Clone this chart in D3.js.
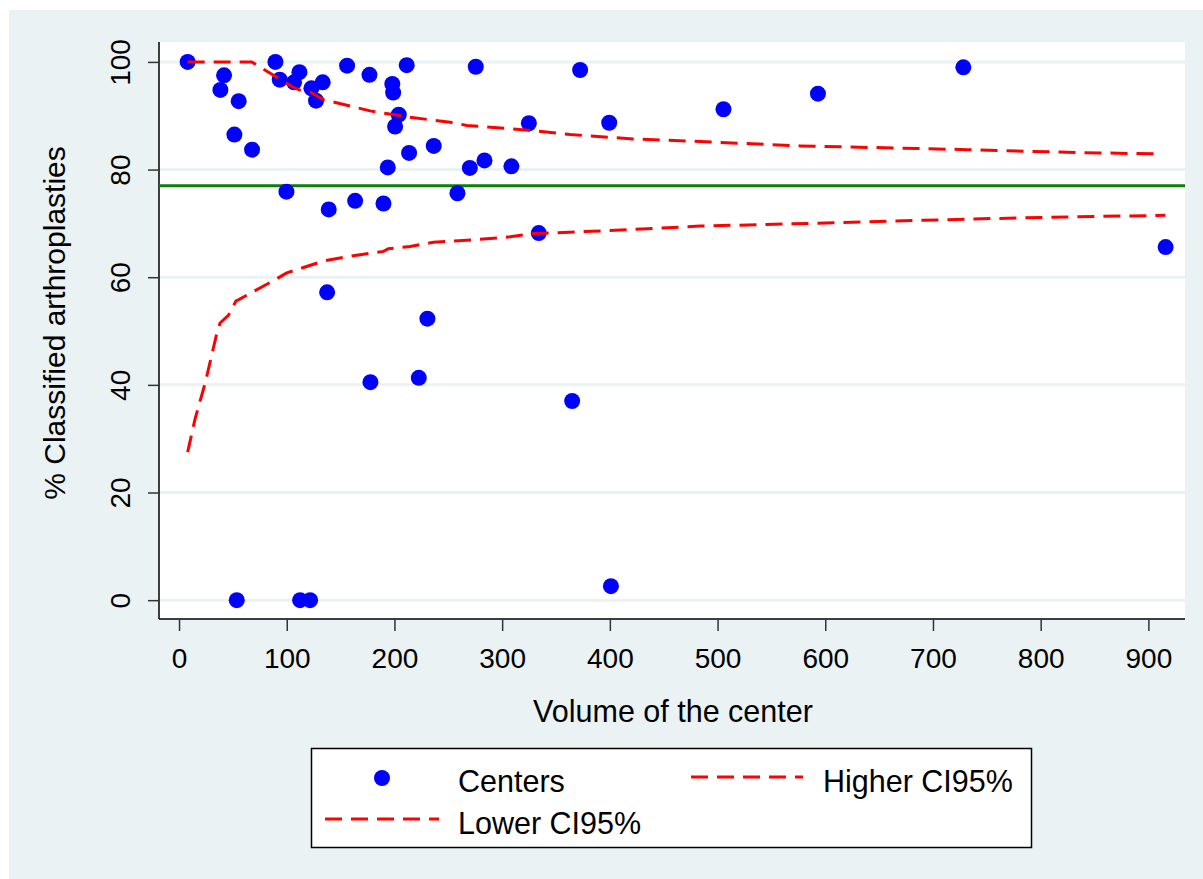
<!DOCTYPE html>
<html>
<head>
<meta charset="utf-8">
<script src="https://cdn.jsdelivr.net/npm/d3@7"></script>
<style>
  body { margin: 0; background: #fff; }
  text { font-family: "Liberation Sans", Arial, Helvetica, sans-serif; fill: #000; }
</style>
</head>
<body>
<svg id="chart" width="1203" height="879"></svg>
<script>
// centers: volume vs % classified
const volume = [8, 41.8, 38.4, 55.4, 51.4, 67.8, 89.5, 93.5, 106.8, 111.8, 122.9, 133.4, 127.2, 156, 176.8,
  198, 198.8, 211.4, 204, 200.6, 193.8, 213.6, 236.5, 99.7, 139, 163.5, 189.8, 137.5, 230.6, 177.7, 222.6,
  275.5, 372.4, 324.8, 399.4, 270, 283.6, 308.6, 258.5, 334, 505.5, 593.2, 728.2, 916, 365, 401, 53.6, 112.4, 121.7]
const pct = [100, 97.5, 94.8, 92.7, 86.5, 83.7, 100, 96.7, 96.2, 98.1, 95.1, 96.2, 92.8, 99.3, 97.6,
  95.9, 94.3, 99.4, 90.2, 88, 80.4, 83.1, 84.4, 75.9, 72.6, 74.2, 73.7, 57.2, 52.3, 40.5, 41.3,
  99.1, 98.5, 88.6, 88.7, 80.3, 81.7, 80.6, 75.6, 68.2, 91.2, 94.1, 99, 65.6, 37, 2.6, 0, 0, 0]

const upperX = [8, 67.5, 71.5, 106.8, 111.7, 121.7, 134, 158.8, 177.4, 189.8, 203.7, 214.5, 251.7, 267.2,
  324.4, 363.2, 421.7, 483.9, 576.8, 731.6, 824.5, 912]
const upperY = [100, 100, 99.5, 95.2, 94.8, 94.4, 93, 91.8, 90.9, 90.5, 90.1, 89.7, 88.8, 88.2,
  87.3, 86.5, 85.7, 85.2, 84.4, 83.7, 83.2, 82.9]

const lowerX = [8, 14.9, 24.1, 35, 38.1, 45.8, 52.9, 55.1, 65.9, 90.7, 100, 112.4, 134, 158.8, 189.8, 194.4,
  214.5, 236.2, 276.5, 307.4, 329, 391, 483.9, 607.7, 731.6, 824.5, 915.8]
const lowerY = [27.5, 33.7, 40.2, 49.5, 51.5, 52.9, 55.6, 55.8, 57, 59.7, 60.8, 61.6, 63, 63.9, 64.8, 65.3,
  65.7, 66.5, 67, 67.5, 68.1, 68.6, 69.5, 70.1, 70.8, 71.2, 71.5]

const meanPct = 77
const xTicks = [0, 100, 200, 300, 400, 500, 600, 700, 800, 900]
const yTicks = [0, 20, 40, 60, 80, 100]

const svg = d3.select('#chart')
const W = +svg.attr('width')
const H = +svg.attr('height')

// plot region
const pL = 159, pR = 1185, pT = 42, pB = 619

const x = d3.scaleLinear().domain([-18.6, 934]).range([pL, pR])
const y = d3.scaleLinear().domain([-3.5, 103.7]).range([pB, pT])

// backgrounds
svg.append('rect').attr('x', 9).attr('y', 10).attr('width', W - 9).attr('height', H - 10).attr('fill', '#eaf2f3')
svg.append('rect').attr('x', pL).attr('y', pT).attr('width', pR - pL).attr('height', pB - pT).attr('fill', '#fff')

// grid
svg.append('g')
  .selectAll('line')
  .data(yTicks)
  .join('line')
    .attr('x1', pL).attr('x2', pR)
    .attr('y1', d => y(d)).attr('y2', d => y(d))
    .attr('stroke', '#eaf2f3')
    .attr('stroke-width', 3)

// axes
const yAxis = svg.append('g')
  .attr('transform', `translate(${pL},0)`)
  .call(d3.axisLeft(y).tickValues(yTicks).tickSize(11).tickFormat(d3.format('d')))
yAxis.select('.domain').attr('stroke', '#000').attr('stroke-width', 1.5).attr('d', `M0,${pT}V${pB}`)
yAxis.selectAll('.tick line').attr('stroke', '#333').attr('stroke-width', 1.5)
yAxis.selectAll('.tick text')
  .attr('x', null).attr('dy', null)
  .attr('text-anchor', 'middle')
  .attr('transform', 'translate(-29,0) rotate(-90)')
  .style('font-size', '28px')
  .style('font-family', '"Liberation Sans", Arial, sans-serif')
  .attr('fill', '#000')

const xAxis = svg.append('g')
  .attr('transform', `translate(0,${pB})`)
  .call(d3.axisBottom(x).tickValues(xTicks).tickSize(12).tickFormat(d3.format('d')))
xAxis.select('.domain').attr('stroke', '#000').attr('stroke-width', 1.5).attr('d', `M${pL},0H${pR}`)
xAxis.selectAll('.tick line').attr('stroke', '#333').attr('stroke-width', 1.5)
xAxis.selectAll('.tick text')
  .attr('y', 49).attr('dy', null)
  .style('font-size', '28px')
  .style('font-family', '"Liberation Sans", Arial, sans-serif')
  .attr('fill', '#000')

// axis titles
svg.append('text')
  .attr('x', 673).attr('y', 722)
  .attr('text-anchor', 'middle')
  .style('font-size', '30.5px')
  .text('Volume of the center')

svg.append('text')
  .attr('transform', 'translate(65,323) rotate(-90)')
  .attr('text-anchor', 'middle')
  .style('font-size', '30px')
  .text('% Classified arthroplasties')

// mean line
svg.append('line')
  .attr('x1', pL).attr('x2', pR)
  .attr('y1', y(meanPct)).attr('y2', y(meanPct))
  .attr('stroke', '#0a800a')
  .attr('stroke-width', 3)

// points
svg.append('g')
  .selectAll('circle')
  .data(volume.map((v, i) => [v, pct[i]]))
  .join('circle')
    .attr('cx', d => x(d[0]))
    .attr('cy', d => y(d[1]))
    .attr('r', 8)
    .attr('fill', '#0000ff')

// CI lines
const line = d3.line().x(d => x(d[0])).y(d => y(d[1]))
const ciStyle = sel => sel
  .attr('fill', 'none')
  .attr('stroke', '#ff0000')
  .attr('stroke-width', 3)
  .attr('stroke-dasharray', '17 9')

svg.append('path').datum(upperX.map((v, i) => [v, upperY[i]])).attr('d', line).call(ciStyle)
svg.append('path').datum(lowerX.map((v, i) => [v, lowerY[i]])).attr('d', line).call(ciStyle)

// legend
const lg = svg.append('g')
lg.append('rect')
  .attr('x', 311.5).attr('y', 748.5).attr('width', 720).attr('height', 99)
  .attr('fill', '#fff').attr('stroke', '#000').attr('stroke-width', 1.5)

lg.append('circle').attr('cx', 382).attr('cy', 778).attr('r', 8).attr('fill', '#0000ff')
lg.append('text').attr('x', 458).attr('y', 792).style('font-size', '30.5px').text('Centers')

lg.append('line').attr('x1', 691).attr('x2', 803).attr('y1', 777).attr('y2', 777).call(ciStyle)
lg.append('text').attr('x', 823).attr('y', 792).style('font-size', '30.5px').text('Higher CI95%')

lg.append('line').attr('x1', 325).attr('x2', 439).attr('y1', 819).attr('y2', 819).call(ciStyle)
lg.append('text').attr('x', 458).attr('y', 834).style('font-size', '30.5px').text('Lower CI95%')
</script>
</body>
</html>
